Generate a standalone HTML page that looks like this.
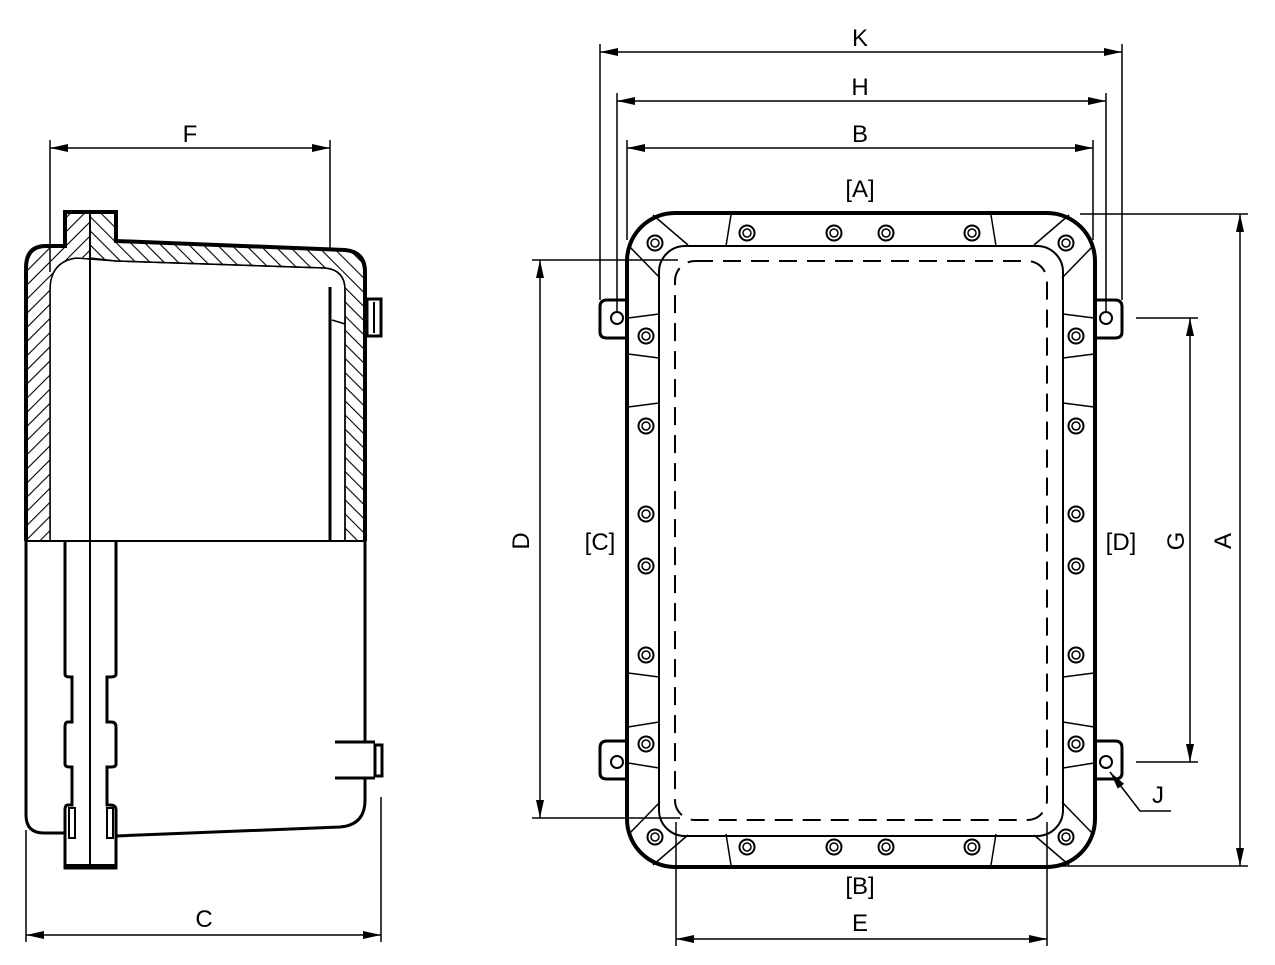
<!DOCTYPE html>
<html><head><meta charset="utf-8"><style>html,body{margin:0;padding:0;background:#fff}svg{display:block}text{font-family:"Liberation Sans",sans-serif;font-size:24px;fill:#000}</style></head><body>
<svg width="1275" height="965" viewBox="0 0 1275 965" xmlns="http://www.w3.org/2000/svg">
<defs>
<marker id="a" viewBox="0 0 18 8" refX="18" refY="4" markerWidth="18" markerHeight="8" markerUnits="userSpaceOnUse" orient="auto-start-reverse"><path d="M0,0 L18,4 L0,8 Z" fill="#000"/></marker>
<pattern id="h" width="10" height="10" patternUnits="userSpaceOnUse" patternTransform="rotate(45)"><line x1="0" y1="0" x2="0" y2="10" stroke="#000" stroke-width="2.2"/></pattern>
<pattern id="h2" width="10" height="10" patternUnits="userSpaceOnUse" patternTransform="rotate(-45)"><line x1="0" y1="0" x2="0" y2="10" stroke="#000" stroke-width="2.2"/></pattern>
<g id="bolt"><circle r="7.5" fill="#fff" stroke="#000" stroke-width="2"/><circle r="4" fill="none" stroke="#000" stroke-width="1.5"/></g>
</defs>
<g fill="none" stroke="#000">
<!-- hatched upper -->
<path d="M26,541 L26,268 Q26,246 46,246 L65,246 L65,212 L116,212 L116,241 L345,250 Q365,252 365,272 L365,541 L345,541 L345,290 Q345,270 325,268 L116,261 L90,258 L76,258 Q50,262 50,290 L50,541 Z" fill="url(#h2)" stroke-width="1.5"/>
<path d="M26,541 L26,268 Q26,246 46,246 L65,246 L65,212 L90,212 L90,258 L76,258 Q50,262 50,290 L50,541 Z" fill="#fff" stroke="none"/>
<path d="M26,541 L26,268 Q26,246 46,246 L65,246 L65,212 L90,212 L90,258 L76,258 Q50,262 50,290 L50,541 Z" fill="url(#h)" stroke="none"/>
<path d="M26,541 L26,268 Q26,246 46,246 L65,246 L65,212 L116,212 L116,241 L345,250 Q365,252 365,272 L365,541" stroke-width="4"/>
<path d="M50,541 L50,290 Q50,262 76,258 L116,261 L325,268 Q345,270 345,290 L345,541" stroke-width="1.5"/>
<line x1="90" y1="212" x2="90" y2="868" stroke-width="2"/>
<line x1="26" y1="541" x2="365" y2="541" stroke-width="2"/>
<line x1="330" y1="287" x2="330" y2="541" stroke-width="3"/>
<line x1="332" y1="320" x2="345" y2="324" stroke-width="1.5"/>
<rect x="367" y="299" width="14" height="37" stroke-width="3"/><line x1="374" y1="302" x2="374" y2="333" stroke-width="2"/>
<!-- lower body -->
<path d="M26,541 L26,815 Q26,833 44,833 L65,833" stroke-width="3"/>
<path d="M365,541 L365,742 M365,778 L365,800 Q365,825 340,827 L116,836" stroke-width="3"/>
<path d="M335,742 L375,742 M335,778 L375,778" stroke-width="3"/>
<rect x="375" y="745" width="7" height="31" stroke-width="3"/>
<path d="M65,541 L65,674 Q65,677 70,677 L72,677 L72,722 L68,722 Q65,722 65,727 L65,764 Q65,767 70,767 L72,767 L72,805 L68,805 Q65,805 65,810 L65,868 L116,868 L116,810 Q116,805 110,805 L107,805 L107,767 L111,767 Q116,767 116,764 L116,727 Q116,722 111,722 L107,722 L107,677 L110,677 Q116,677 116,674 L116,541" stroke-width="3"/>
<line x1="65" y1="866" x2="116" y2="866" stroke-width="4"/>
<rect x="69" y="808" width="6" height="30" stroke-width="2"/><rect x="107" y="808" width="6" height="30" stroke-width="2"/>
<!-- F, C dims -->
<line x1="50" y1="140" x2="50" y2="272" stroke-width="1.5"/><line x1="330" y1="140" x2="330" y2="250" stroke-width="1.5"/>
<line x1="50" y1="148" x2="330" y2="148" stroke-width="1.5" marker-start="url(#a)" marker-end="url(#a)"/>
<line x1="26" y1="830" x2="26" y2="942" stroke-width="1.5"/><line x1="381" y1="797" x2="381" y2="942" stroke-width="1.5"/>
<line x1="26" y1="935" x2="381" y2="935" stroke-width="1.5" marker-start="url(#a)" marker-end="url(#a)"/>

<!-- RIGHT VIEW -->
<path d="M626,300 L607,300 Q600,300 600,307 L600,332 Q600,338 607,338 L626,338" stroke-width="3"/>
<path d="M626,741 L607,741 Q600,741 600,748 L600,773 Q600,779 607,779 L626,779" stroke-width="3"/>
<path d="M1096,300 L1115,300 Q1122,300 1122,307 L1122,332 Q1122,338 1115,338 L1096,338" stroke-width="3"/>
<path d="M1096,741 L1115,741 Q1122,741 1122,748 L1122,773 Q1122,779 1115,779 L1096,779" stroke-width="3"/>
<circle cx="617" cy="318" r="6" stroke-width="2"/><circle cx="617" cy="762" r="6" stroke-width="2"/>
<circle cx="1106" cy="318" r="6" stroke-width="2"/><circle cx="1106" cy="762" r="6" stroke-width="2"/>
<rect x="627" y="213" width="468" height="654" rx="48" stroke-width="4" fill="#fff"/>
<rect x="659" y="246" width="404" height="590" rx="26" stroke-width="2"/>
<rect x="675" y="261" width="372" height="559" rx="20" stroke-width="2" stroke-dasharray="18,10"/>
<g stroke-width="1.5">
<path d="M653,215 L688,245 M628,245 L660,278"/>
<path d="M1069,215 L1034,245 M1094,245 L1062,278"/>
<path d="M653,865 L688,835 M628,835 L660,802"/>
<path d="M1069,865 L1034,835 M1094,835 L1062,802"/>
<path d="M731,215 L726,246 M991,215 L996,246 M731,865 L726,834 M991,865 L996,834"/>
<path d="M628,318 L659,314 M628,354 L659,358 M628,407 L659,403 M628,673 L659,677 M628,727 L659,722 M628,763 L659,768"/>
<path d="M1094,318 L1063,314 M1094,354 L1063,358 M1094,407 L1063,403 M1094,673 L1063,677 M1094,727 L1063,722 M1094,763 L1063,768"/>
</g>
</g>
<g>
<use href="#bolt" x="655" y="243"/><use href="#bolt" x="1066" y="243"/><use href="#bolt" x="655" y="837"/><use href="#bolt" x="1066" y="837"/>
<use href="#bolt" x="747" y="233"/><use href="#bolt" x="834" y="233"/><use href="#bolt" x="886" y="233"/><use href="#bolt" x="972" y="233"/>
<use href="#bolt" x="747" y="847"/><use href="#bolt" x="834" y="847"/><use href="#bolt" x="886" y="847"/><use href="#bolt" x="972" y="847"/>
<use href="#bolt" x="646" y="336"/><use href="#bolt" x="646" y="426"/><use href="#bolt" x="646" y="514"/><use href="#bolt" x="646" y="566"/><use href="#bolt" x="646" y="655"/><use href="#bolt" x="646" y="744"/>
<use href="#bolt" x="1076" y="336"/><use href="#bolt" x="1076" y="426"/><use href="#bolt" x="1076" y="514"/><use href="#bolt" x="1076" y="566"/><use href="#bolt" x="1076" y="655"/><use href="#bolt" x="1076" y="744"/>
</g>
<g fill="none" stroke="#000" stroke-width="1.5">
<line x1="600" y1="44" x2="600" y2="300"/><line x1="1122" y1="44" x2="1122" y2="300"/>
<line x1="600" y1="52" x2="1122" y2="52" marker-start="url(#a)" marker-end="url(#a)"/>
<line x1="617" y1="93" x2="617" y2="312"/><line x1="1106" y1="93" x2="1106" y2="312"/>
<line x1="617" y1="101" x2="1106" y2="101" marker-start="url(#a)" marker-end="url(#a)"/>
<line x1="627" y1="140" x2="627" y2="240"/><line x1="1093" y1="140" x2="1093" y2="240"/>
<line x1="627" y1="148" x2="1093" y2="148" marker-start="url(#a)" marker-end="url(#a)"/>
<line x1="1080" y1="214" x2="1248" y2="214"/><line x1="1060" y1="866" x2="1248" y2="866"/>
<line x1="1240" y1="214" x2="1240" y2="866" marker-start="url(#a)" marker-end="url(#a)"/>
<line x1="1136" y1="318" x2="1198" y2="318"/><line x1="1136" y1="762" x2="1198" y2="762"/>
<line x1="1190" y1="318" x2="1190" y2="762" marker-start="url(#a)" marker-end="url(#a)"/>
<line x1="532" y1="260" x2="678" y2="260"/><line x1="532" y1="818" x2="680" y2="818"/>
<line x1="540" y1="260" x2="540" y2="818" marker-start="url(#a)" marker-end="url(#a)"/>
<line x1="676" y1="822" x2="676" y2="946"/><line x1="1047" y1="822" x2="1047" y2="946"/>
<line x1="676" y1="939" x2="1047" y2="939" marker-start="url(#a)" marker-end="url(#a)"/>
<path d="M1171,811 L1140,811 L1110,772" marker-end="url(#a)"/>
</g>
<g text-anchor="middle">
<text x="860" y="46">K</text><text x="860" y="95">H</text><text x="860" y="142">B</text><text x="860" y="197">[A]</text>
<text x="860" y="894">[B]</text><text x="860" y="931">E</text>
<text x="600" y="550">[C]</text><text x="1121" y="550">[D]</text>
<text x="1158" y="803">J</text>
<text x="190" y="142">F</text><text x="204" y="927">C</text>
<text transform="translate(529,541) rotate(-90)">D</text>
<text transform="translate(1184,541) rotate(-90)">G</text>
<text transform="translate(1231,541) rotate(-90)">A</text>
</g>
</svg>
</body></html>
